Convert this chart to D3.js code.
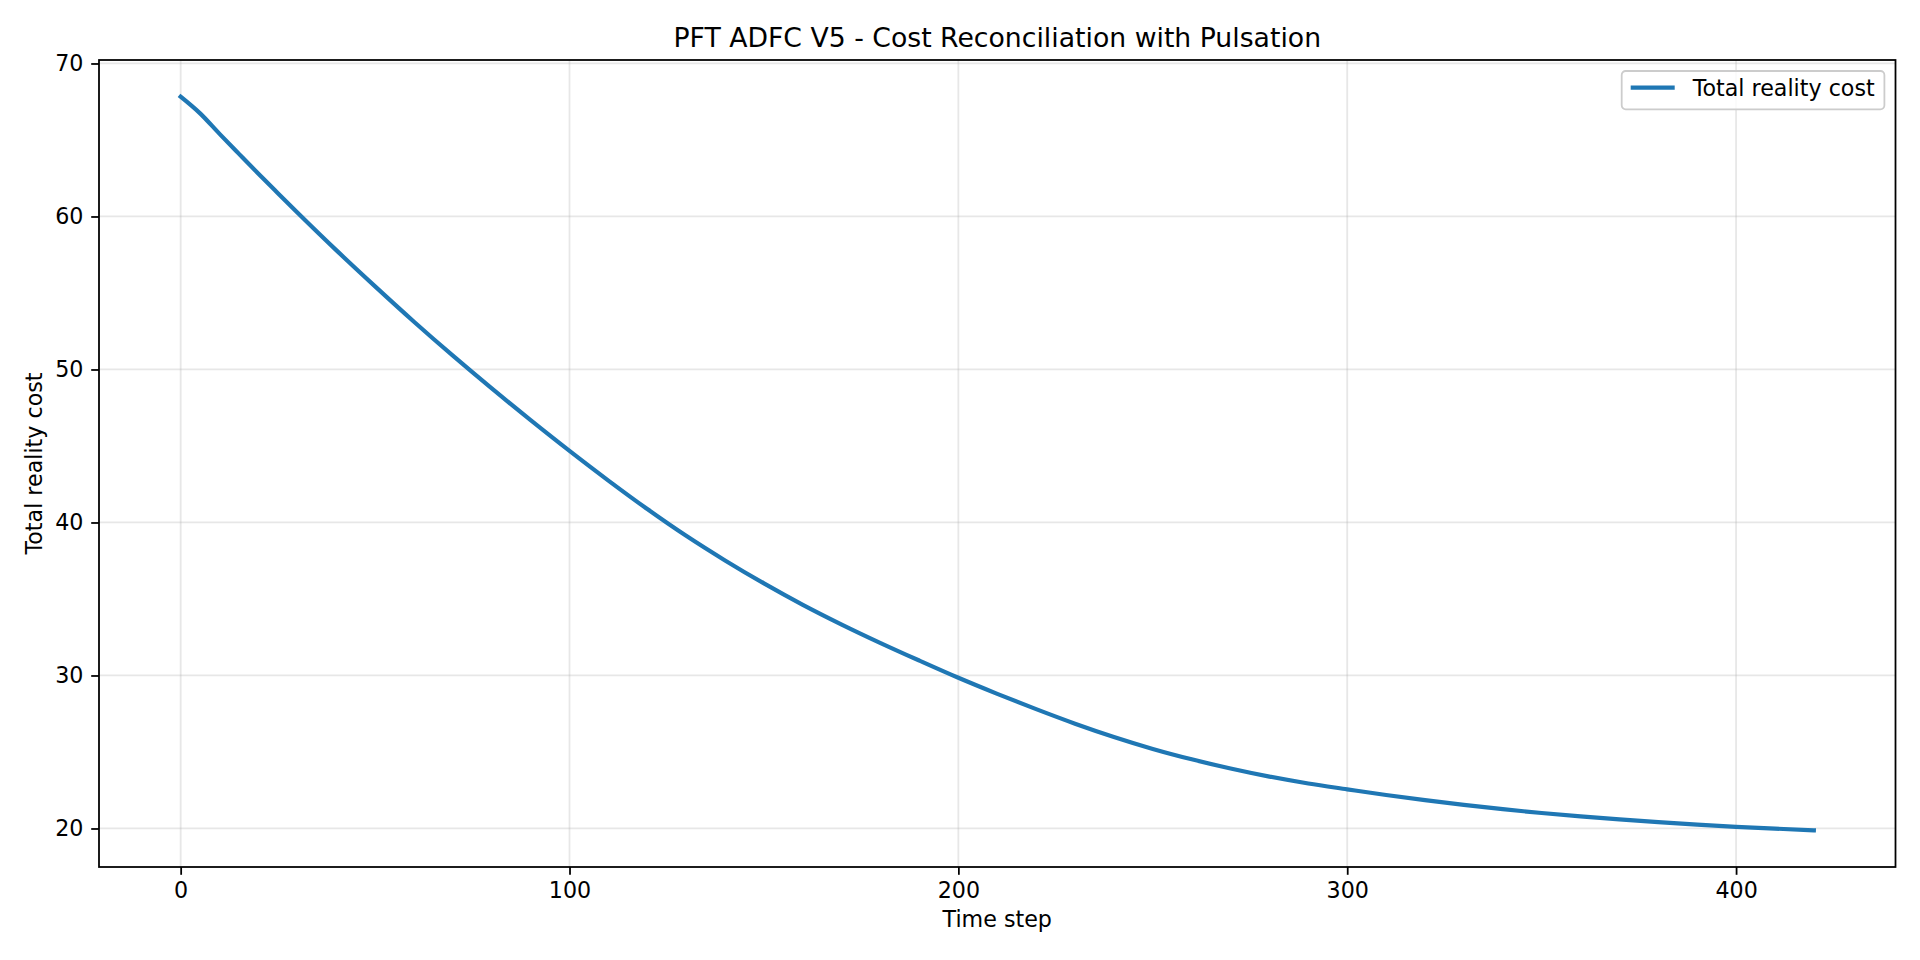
<!DOCTYPE html>
<html>
<head>
<meta charset="utf-8">
<script src="https://cdn.jsdelivr.net/npm/d3@7"></script>
<style>
  body { margin: 0; background: #ffffff; }
  svg text { font-family: "DejaVu Sans", sans-serif; fill: #000000; }
</style>
</head>
<body>
<script>
// values
var steps = [0, 5, 10, 15, 20, 25, 30, 40, 50, 60, 70, 80, 90, 100, 110, 120, 130, 140, 150, 160,
             170, 180, 190, 200, 210, 220, 230, 240, 250, 260, 270, 280, 290, 300, 310, 320, 330,
             340, 350, 360, 370, 380, 390, 400, 410, 420];
var totalCost = [67.83, 66.74, 65.40, 64.09, 62.79, 61.52, 60.26, 57.80, 55.43, 53.12, 50.90, 48.76, 46.69,
                 44.68, 42.74, 40.88, 39.13, 37.52, 36.02, 34.62, 33.33, 32.12, 30.97, 29.85, 28.80, 27.80,
                 26.85, 25.98, 25.20, 24.52, 23.92, 23.39, 22.94, 22.56, 22.19, 21.85, 21.54, 21.26, 21.01,
                 20.79, 20.59, 20.41, 20.25, 20.11, 19.99, 19.88];
var xTicks = [0, 100, 200, 300, 400];
var yTicks = [20, 30, 40, 50, 60, 70];
var seriesName = "Total reality cost";

function init() {
    var w = 1920;
    var h = 960;
    var left = 99, right = 1895.5, top = 60, bottom = 867;
    var fs = "22.2px";

    var svg = d3.select("body")
                .append("svg")
                .attr("width", w)
                .attr("height", h);

    var data = steps.map(function (s, i) { return [s, totalCost[i]]; });

    // 5% margins around the data, like matplotlib
    var xMin = d3.min(steps), xMax = d3.max(steps);
    var yMin = d3.min(totalCost), yMax = d3.max(totalCost);
    var xPad = (xMax - xMin) * 0.05, yPad = (yMax - yMin) * 0.05;

    var xScale = d3.scaleLinear()
                   .domain([xMin - xPad, xMax + xPad])
                   .range([left, right]);

    var yScale = d3.scaleLinear()
                   .domain([yMin - yPad, yMax + yPad])
                   .range([bottom, top]);

    // grid
    svg.append("g")
        .selectAll("line")
        .data(xTicks)
        .enter()
        .append("line")
        .attr("x1", function (d) { return xScale(d); })
        .attr("x2", function (d) { return xScale(d); })
        .attr("y1", top)
        .attr("y2", bottom)
        .attr("stroke", "#b0b0b0")
        .attr("stroke-opacity", 0.3)
        .attr("stroke-width", 1.78);

    svg.append("g")
        .selectAll("line")
        .data(yTicks)
        .enter()
        .append("line")
        .attr("x1", left)
        .attr("x2", right)
        .attr("y1", function (d) { return yScale(d); })
        .attr("y2", function (d) { return yScale(d); })
        .attr("stroke", "#b0b0b0")
        .attr("stroke-opacity", 0.3)
        .attr("stroke-width", 1.78);

    // the line
    var line = d3.line()
                 .x(function (d) { return xScale(d[0]); })
                 .y(function (d) { return yScale(d[1]); })
                 .curve(d3.curveMonotoneX);

    svg.append("path")
        .datum(data)
        .attr("d", line)
        .attr("fill", "none")
        .attr("stroke", "#1f77b4")
        .attr("stroke-width", 4.2)
        .attr("stroke-linecap", "square");

    // axes
    var xAxis = d3.axisBottom(xScale).tickValues(xTicks).tickSize(7.8).tickPadding(7.8);
    var gx = svg.append("g")
        .attr("transform", "translate(0," + bottom + ")")
        .call(xAxis);

    var yAxis = d3.axisLeft(yScale).tickValues(yTicks).tickSize(7.8).tickPadding(7.8);
    var gy = svg.append("g")
        .attr("transform", "translate(" + left + ",0)")
        .call(yAxis);

    [gx, gy].forEach(function (g) {
        g.select(".domain").remove();
        g.selectAll(".tick line").attr("stroke", "#000").attr("stroke-width", 1.78);
        g.selectAll(".tick text")
         .attr("font-family", "DejaVu Sans")
         .attr("font-size", fs)
         .attr("fill", "#000");
    });

    // frame
    svg.append("rect")
        .attr("x", left)
        .attr("y", top)
        .attr("width", right - left)
        .attr("height", bottom - top)
        .attr("fill", "none")
        .attr("stroke", "#000")
        .attr("stroke-width", 1.78);

    // title and labels
    svg.append("text")
        .text("PFT ADFC V5 - Cost Reconciliation with Pulsation")
        .attr("x", (left + right) / 2)
        .attr("y", 47)
        .attr("text-anchor", "middle")
        .attr("font-size", "26.7px");

    svg.append("text")
        .text("Time step")
        .attr("x", (left + right) / 2)
        .attr("y", 927)
        .attr("text-anchor", "middle")
        .attr("font-size", fs);

    svg.append("text")
        .text("Total reality cost")
        .attr("transform", "translate(41.5," + (top + bottom) / 2 + ") rotate(-90)")
        .attr("text-anchor", "middle")
        .attr("font-size", fs);

    // legend
    var lg = svg.append("g").attr("transform", "translate(1621.7,71)");
    lg.append("rect")
        .attr("width", 262.7)
        .attr("height", 38.3)
        .attr("rx", 4)
        .attr("fill", "#ffffff")
        .attr("fill-opacity", 0.8)
        .attr("stroke", "#cccccc")
        .attr("stroke-width", 1.78);
    lg.append("line")
        .attr("x1", 9)
        .attr("x2", 53)
        .attr("y1", 16.7)
        .attr("y2", 16.7)
        .attr("stroke", "#1f77b4")
        .attr("stroke-width", 4.2);
    lg.append("text")
        .text(seriesName)
        .attr("x", 71)
        .attr("y", 25)
        .attr("font-size", fs);
}

window.onload = init;
</script>
</body>
</html>
